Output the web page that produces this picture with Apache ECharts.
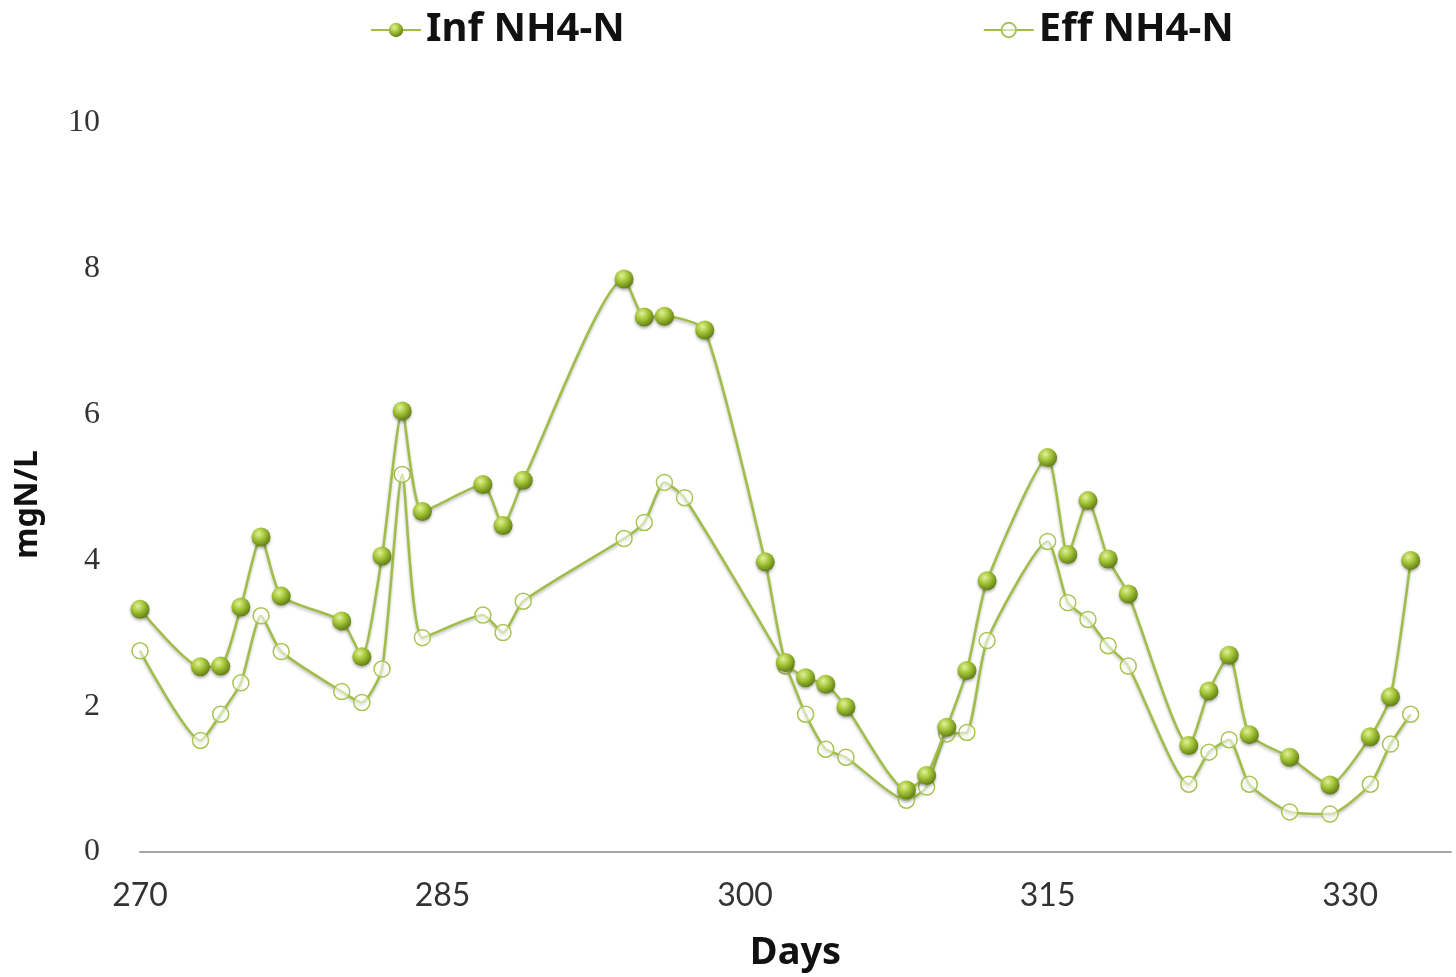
<!DOCTYPE html>
<html>
<head>
<meta charset="utf-8">
<script src="https://cdn.jsdelivr.net/npm/echarts@6/dist/echarts.min.js"></script>
<style>
html,body{margin:0;padding:0;background:#fff;}
#chart{width:1456px;height:977px;}
</style>
</head>
<body>
<div id="chart"></div>
<script>
// Days and values
const infDays = [270,273,274,275,276,277,280,281,282,283,284,287,288,289,294,295,296,298,301,302,303,304,305,308,309,310,311,312,315,316,317,318,319,322,323,324,325,327,329,331,332,333];
const infValues = [3.33,2.54,2.55,3.36,4.32,3.51,3.17,2.68,4.06,6.05,4.67,5.04,4.48,5.10,7.86,7.34,7.35,7.16,3.98,2.60,2.39,2.30,1.99,0.85,1.05,1.71,2.49,3.72,5.41,4.08,4.82,4.02,3.54,1.46,2.21,2.70,1.61,1.30,0.92,1.58,2.13,4.00];

const effDays = [270,273,274,275,276,277,280,281,282,283,284,287,288,289,294,295,296,297,302,303,304,305,308,309,310,311,312,315,316,317,318,319,322,323,324,325,327,329,331,332,333];
const effValues = [2.76,1.53,1.89,2.32,3.24,2.75,2.20,2.05,2.51,5.18,2.94,3.25,3.01,3.44,4.30,4.52,5.07,4.86,2.55,1.89,1.41,1.30,0.71,0.89,1.62,1.64,2.90,4.26,3.42,3.19,2.83,2.55,0.93,1.37,1.54,0.93,0.55,0.52,0.93,1.48,1.89];

const seriesNames = ['Inf NH4-N', 'Eff NH4-N'];
const xAxisTitle = 'Days';
const yAxisTitle = 'mgN/L';

const lineColor = '#9fbd47';
const ballFill = {
  type: 'radial', x: 0.38, y: 0.32, r: 0.7,
  colorStops: [
    {offset: 0, color: '#e2f19a'},
    {offset: 0.45, color: '#a6c63a'},
    {offset: 1, color: '#5f7d12'}
  ]
};

const chart = echarts.init(document.getElementById('chart'), null, {renderer: 'canvas'});
chart.setOption({
  backgroundColor: '#ffffff',
  animation: false,
  legend: {
    top: 5,
    left: 365,
    itemGap: 358,
    itemWidth: 50,
    itemHeight: 18,
    textStyle: {fontFamily: 'Noto Sans', fontWeight: 'bold', fontSize: 40, color: '#111'},
    data: seriesNames
  },
  grid: {left: 140, right: 5, top: 123, bottom: 122},
  xAxis: {
    type: 'value', min: 270, max: 335, interval: 15,
    name: xAxisTitle, nameLocation: 'middle', nameGap: 82,
    nameTextStyle: {fontFamily: 'Noto Sans', fontWeight: 'bold', fontSize: 38, color: '#111'},
    axisLine: {show: true, lineStyle: {color: '#a6a6a6', width: 2}},
    axisTick: {show: false},
    splitLine: {show: false},
    axisLabel: {showMaxLabel: false, margin: 28, fontFamily: 'Lato', fontSize: 32, color: '#333'}
  },
  yAxis: {
    type: 'value', min: 0, max: 10, interval: 2,
    name: yAxisTitle, nameLocation: 'middle', nameGap: 96, nameRotate: 90,
    nameTextStyle: {fontFamily: 'Noto Sans', fontWeight: 'bold', fontSize: 32, color: '#111', padding: [0, 34, 0, 0]},
    axisLine: {show: false},
    axisTick: {show: false},
    splitLine: {show: false},
    axisLabel: {margin: 40, fontFamily: 'Liberation Serif', fontSize: 32, color: '#333'}
  },
  series: [
    {
      name: seriesNames[0], type: 'line', smooth: 0.2,
      data: infDays.map((d, i) => [d, infValues[i]]),
      symbol: 'circle', symbolSize: 19,
      lineStyle: {color: lineColor, width: 2.5, shadowColor: 'rgba(0,0,0,0.25)', shadowBlur: 3, shadowOffsetY: 2},
      itemStyle: {color: ballFill, borderWidth: 0, shadowColor: 'rgba(0,0,0,0.3)', shadowBlur: 3, shadowOffsetY: 2},
      z: 3
    },
    {
      name: seriesNames[1], type: 'line', smooth: 0.2,
      data: effDays.map((d, i) => [d, effValues[i]]),
      symbol: 'circle', symbolSize: 16,
      lineStyle: {color: lineColor, width: 2.5, shadowColor: 'rgba(0,0,0,0.25)', shadowBlur: 3, shadowOffsetY: 2},
      itemStyle: {color: 'rgba(255,255,255,0.55)', borderColor: '#a9c452', borderWidth: 1.5},
      z: 2
    }
  ]
});
</script>
</body>
</html>
